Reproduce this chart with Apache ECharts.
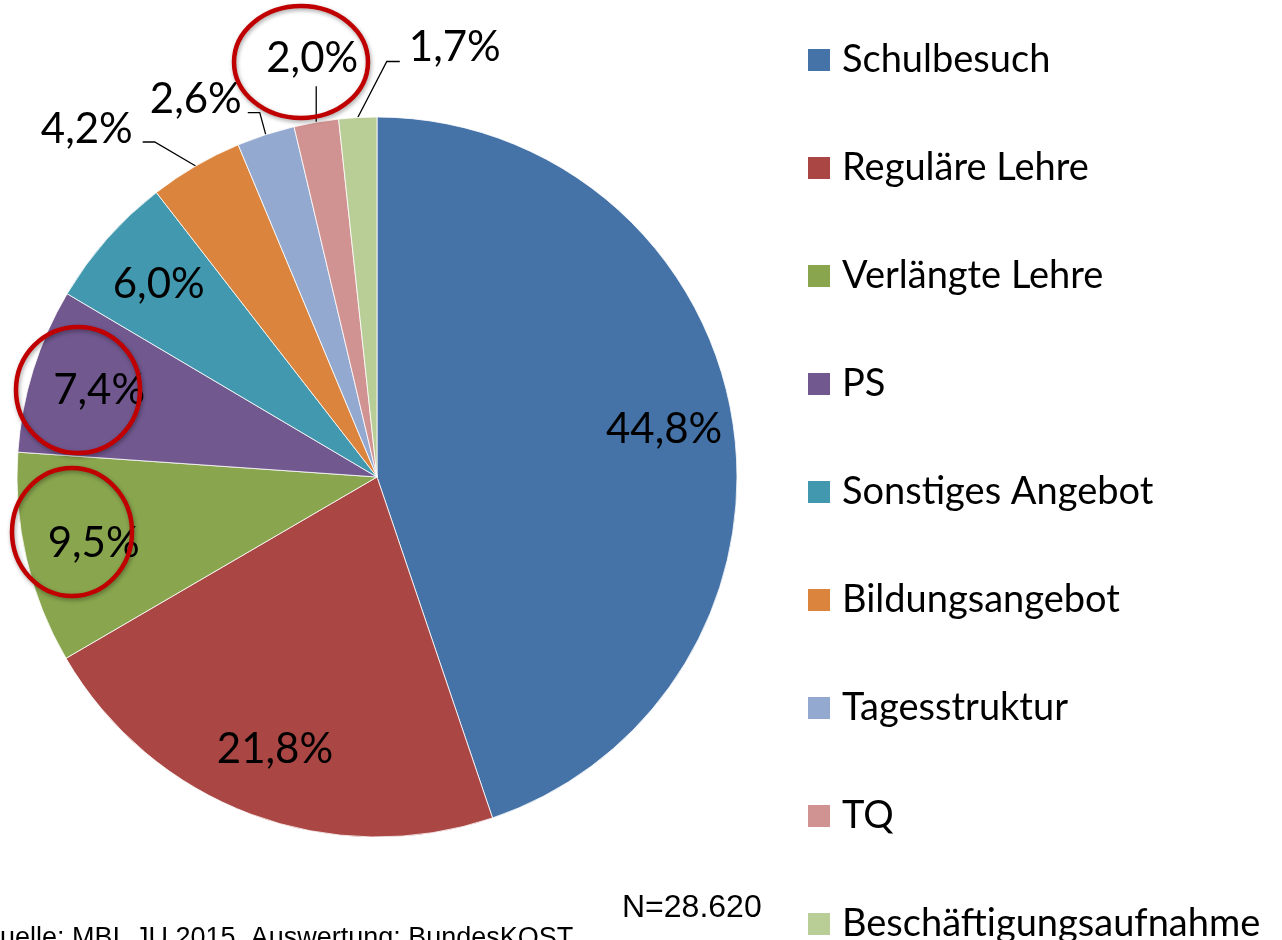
<!DOCTYPE html>
<html lang="de">
<head>
<meta charset="UTF-8">
<script src="https://cdn.jsdelivr.net/npm/echarts@6/dist/echarts.min.js"></script>
<title>Anschlusslösungen</title>
<style>
    html, body { margin: 0; padding: 0; background: #ffffff; }
    #chart { width: 1282px; height: 940px; }
</style>
</head>
<body>
<div id="chart"></div>
<script>
    var categories = ['Schulbesuch', 'Reguläre Lehre', 'Verlängte Lehre', 'PS', 'Sonstiges Angebot',
                      'Bildungsangebot', 'Tagesstruktur', 'TQ', 'Beschäftigungsaufnahme'];
    var shares = [44.8, 21.8, 9.5, 7.4, 6.0, 4.2, 2.6, 2.0, 1.7];
    var colors = ['#4572A7', '#AA4643', '#89A54E', '#71588F', '#4198AF',
                  '#DB843D', '#93A9CF', '#D19392', '#B9CD96'];
    var outsideLabels = ['Bildungsangebot', 'Tagesstruktur', 'TQ', 'Beschäftigungsaufnahme'];
    var sampleSize = 'N=28.620';
    var sourceNote = 'Quelle: MBI, JU 2015, Auswertung: BundesKOST';

    var CX = 377, CY = 477, R = 360;
    var LABEL_FONT = 'Lato';

    // leader line shapes for the small slices, relative to the point on the rim
    var leaders = {
        'Bildungsangebot':        { pts: [[-41, -24], [-53, -24]], dx: -63, dy: -37, align: 'right' },
        'Tagesstruktur':          { pts: [[-6, -22], [-18, -22]],  dx: -24, dy: -35, align: 'right' },
        'TQ':                     { pts: [[0, -36]],               dx: -4,  dy: -64, align: 'center' },
        'Beschäftigungsaufnahme': { pts: [[29, -56], [42, -56]],   dx: 51,  dy: -70, align: 'left' }
    };

    function fmt(v) {
        return v.toFixed(1).replace('.', ',') + '%';
    }

    var pieData = categories.map(function (name, i) {
        var outside = outsideLabels.indexOf(name) >= 0;
        return {
            name: name,
            value: shares[i],
            itemStyle: { color: colors[i] },
            label: { position: outside ? 'outside' : 'inside' }
        };
    });

    var chart = echarts.init(document.getElementById('chart'));

    chart.setOption({
        animation: false,
        backgroundColor: '#ffffff',
        legend: {
            orient: 'vertical',
            left: 806,
            top: 41,
            height: 980,
            padding: 0,
            itemWidth: 24,
            itemHeight: 24,
            itemGap: 70,
            icon: 'rect',
            selectedMode: false,
            data: categories,
            textStyle: {
                fontFamily: LABEL_FONT,
                fontSize: 38,
                color: '#000000',
                padding: [0, 0, 0, 6]
            }
        },
        series: [{
            type: 'pie',
            center: [CX, CY],
            radius: R,
            startAngle: 90,
            clockwise: true,
            avoidLabelOverlap: false,
            emphasis: { disabled: true },
            itemStyle: { borderColor: '#ffffff', borderWidth: 0.8 },
            label: {
                show: true,
                formatter: function (p) { return fmt(p.value); },
                fontFamily: LABEL_FONT,
                fontSize: 42,
                color: '#000000'
            },
            labelLine: {
                show: true,
                length: 20,
                length2: 10,
                lineStyle: { color: '#000000', width: 1.3 }
            },
            labelLayout: function (p) {
                var name = categories[p.dataIndex];
                var rect = p.labelRect;
                var lead = leaders[name];
                if (!lead) {
                    var lx = rect.x + rect.width / 2, ly = rect.y + rect.height / 2;
                    var k = 291 / Math.sqrt((lx - CX) * (lx - CX) + (ly - CY) * (ly - CY));
                    return {
                        x: CX + (lx - CX) * k,
                        y: CY + (ly - CY) * k,
                        align: 'center',
                        verticalAlign: 'middle'
                    };
                }
                var e = p.labelLinePoints[0];
                var pts = [[e[0], e[1]]];
                lead.pts.forEach(function (d) { pts.push([e[0] + d[0], e[1] + d[1]]); });
                if (pts.length === 2) pts.push(pts[1].slice());
                return {
                    x: e[0] + lead.dx,
                    y: e[1] + lead.dy,
                    align: lead.align,
                    verticalAlign: 'middle',
                    labelLinePoints: pts
                };
            },
            data: pieData
        }],
        graphic: [
            {
                type: 'text', left: 622, top: 892, z: 50,
                style: { text: sampleSize, font: '32px "Liberation Sans"', fill: '#000000' }
            },
            {
                type: 'text', left: -21, top: 925, z: 50,
                style: { text: sourceNote, font: '27px "Liberation Sans"', fill: '#000000' }
            },
            {
                type: 'ellipse', z: 100,
                shape: { cx: 301, cy: 62, rx: 67, ry: 56 },
                style: { fill: 'none', stroke: '#C00000', lineWidth: 4.5,
                         shadowBlur: 4, shadowOffsetX: 1, shadowOffsetY: 2, shadowColor: 'rgba(0,0,0,0.35)' }
            },
            {
                type: 'ellipse', z: 100,
                shape: { cx: 78, cy: 390, rx: 62, ry: 63 },
                style: { fill: 'none', stroke: '#C00000', lineWidth: 4.5,
                         shadowBlur: 4, shadowOffsetX: 1, shadowOffsetY: 2, shadowColor: 'rgba(0,0,0,0.35)' }
            },
            {
                type: 'ellipse', z: 100,
                shape: { cx: 72, cy: 532, rx: 60, ry: 64 },
                style: { fill: 'none', stroke: '#C00000', lineWidth: 4.5,
                         shadowBlur: 4, shadowOffsetX: 1, shadowOffsetY: 2, shadowColor: 'rgba(0,0,0,0.35)' }
            }
        ]
    });
</script>
</body>
</html>
